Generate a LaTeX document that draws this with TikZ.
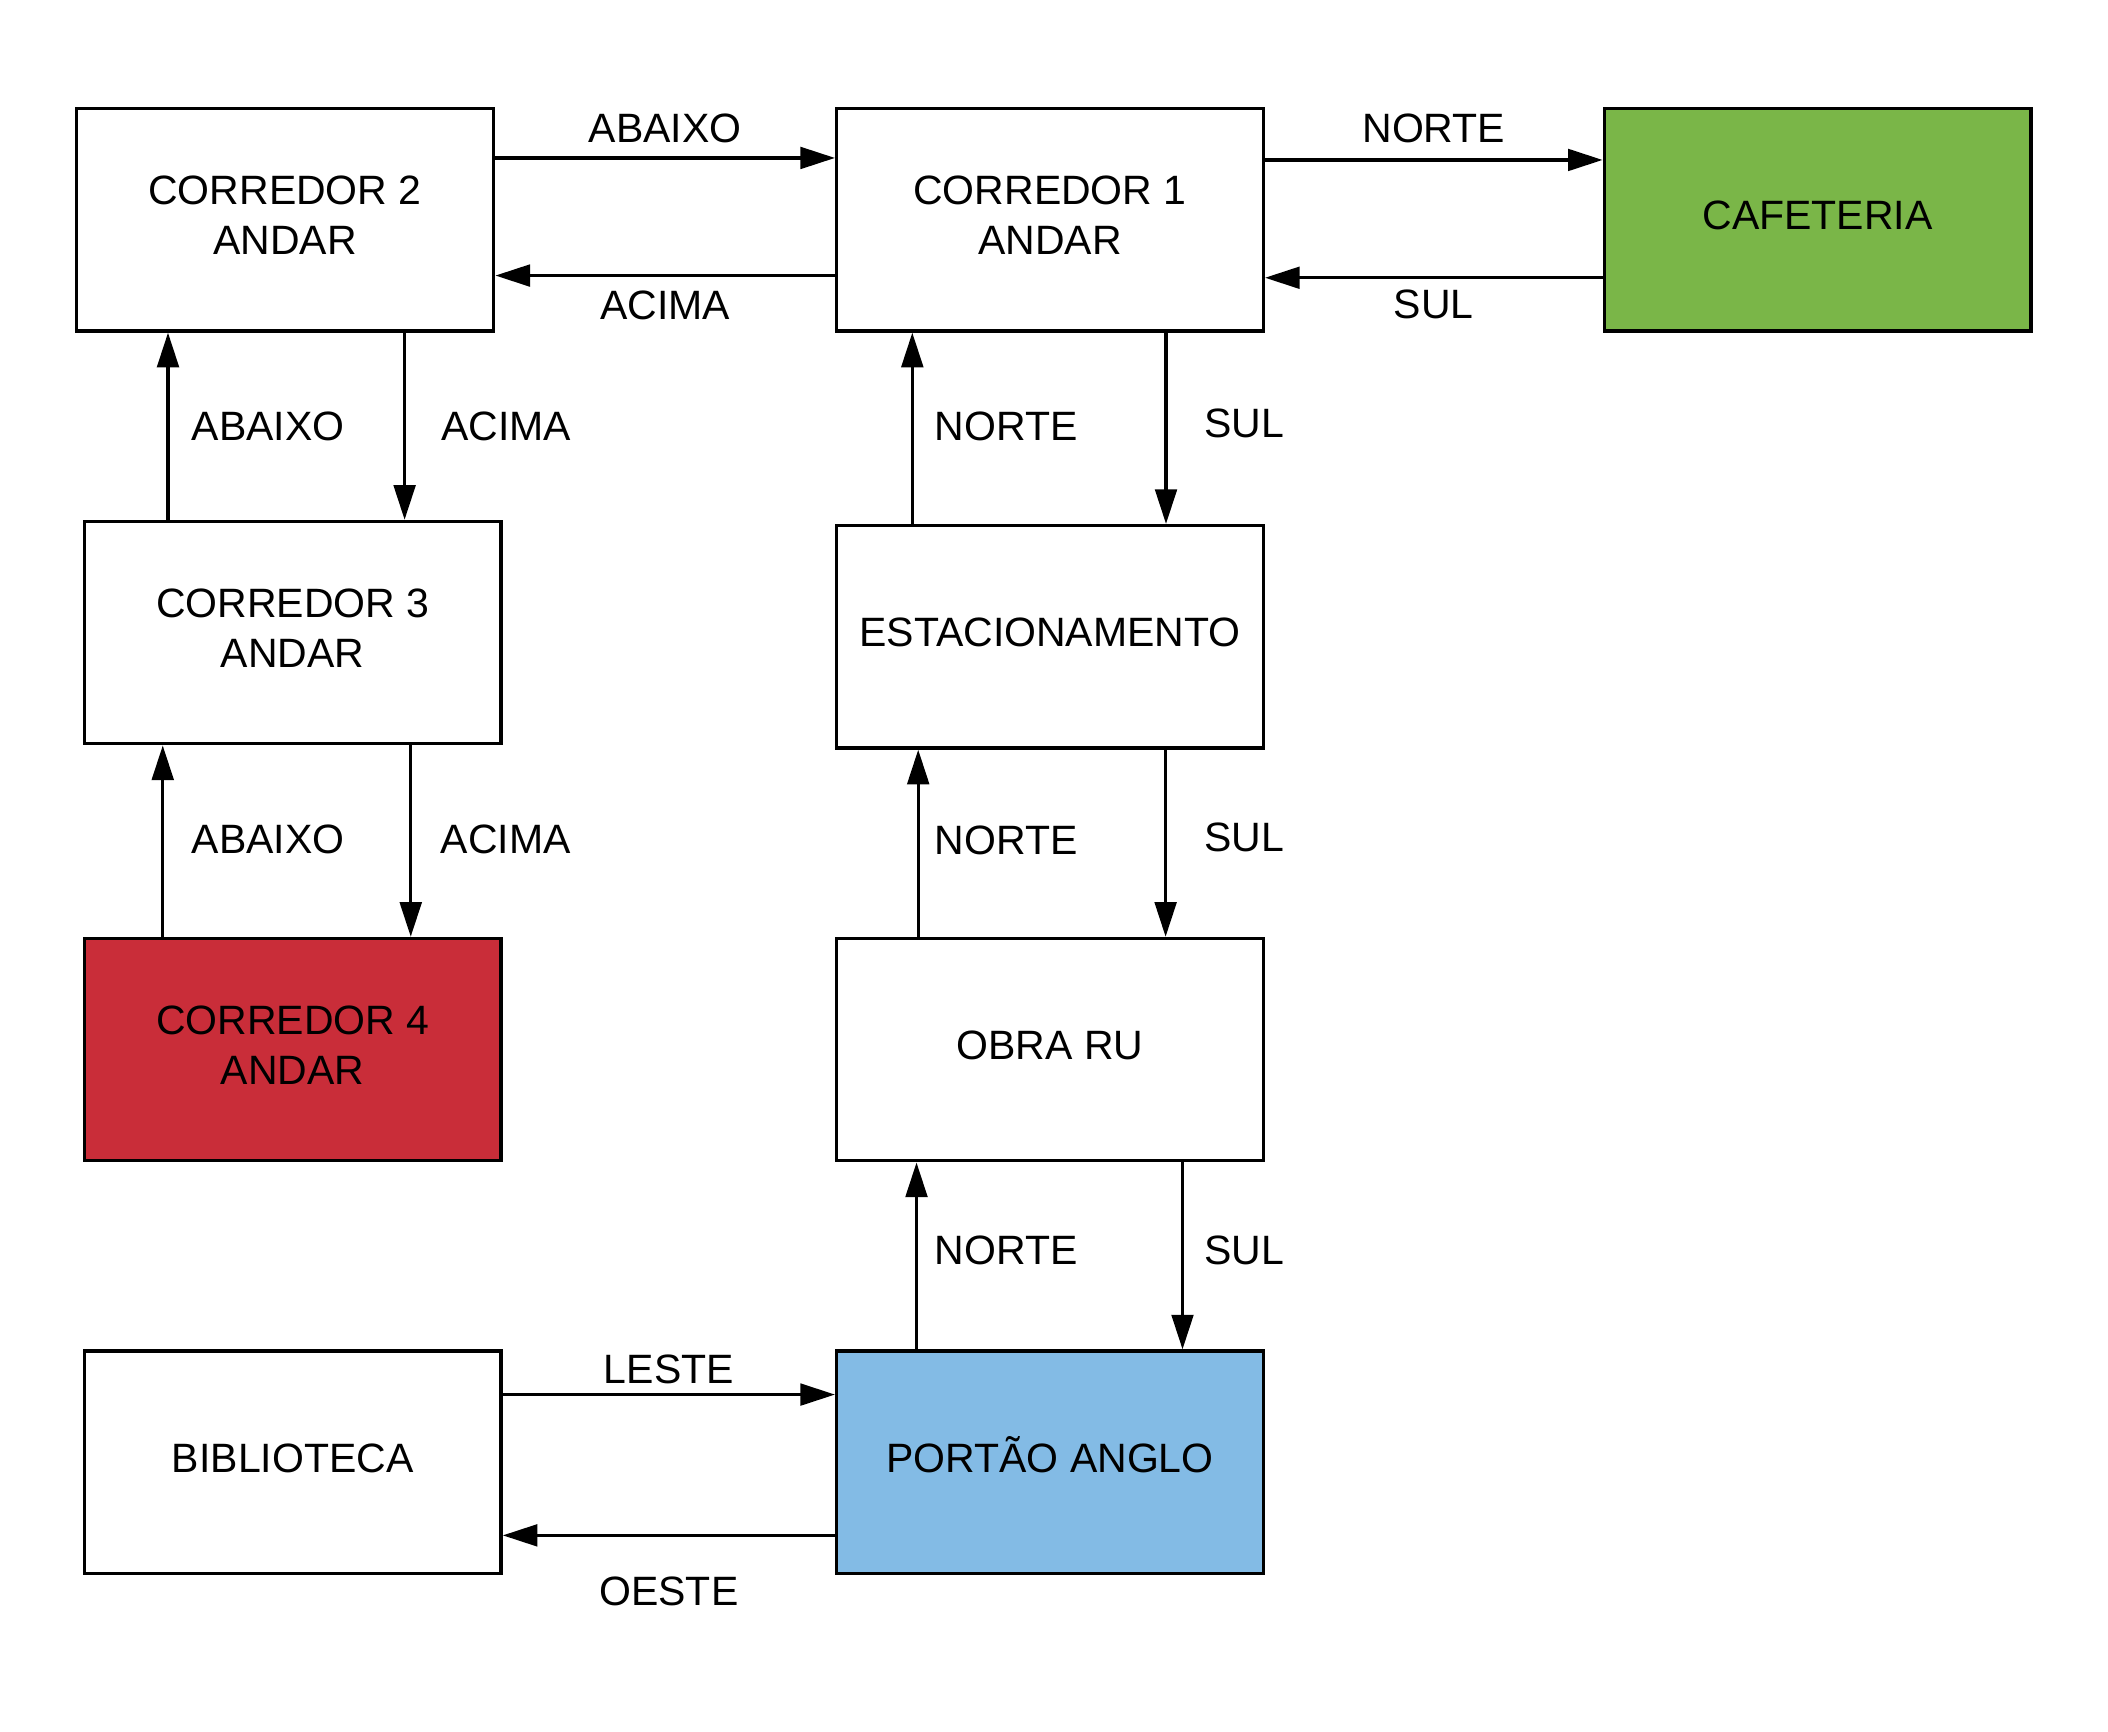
\documentclass[tikz,border=0pt]{standalone}
\usepackage{fontspec}
\setmainfont{Liberation Sans}
\usetikzlibrary{arrows.meta,calc}
\definecolor{cafegreen}{HTML}{7AB648}
\definecolor{corred}{HTML}{C92D39}
\definecolor{portblue}{HTML}{83BBE5}
\begin{document}
\begin{tikzpicture}[x=0.5pt,y=-0.5pt,
  txt/.style={font=\fontsize{20.5pt}{25pt}\selectfont},
  box/.style={txt, draw, line width=1.65pt, align=center, inner sep=0pt, minimum height=111.2pt},
  narrow/.style={box, minimum width=208.35pt},
  wide/.style={box, minimum width=213.35pt},
  arr/.style={line width=1.65pt, -{Triangle[length=17.3pt,width=10.8pt]}},
  lab/.style={txt, inner sep=0pt, anchor=center}]
\useasboundingbox (0,0) rectangle (2108,1731);

% boxes
\node[box, minimum width=208.75pt] (c2) at (285,219.8) {\strut CORREDOR 2\\ANDAR\strut};
\node[wide] (c1) at (1050,219.8) {\strut CORREDOR 1\\ANDAR\strut};
\node[wide, fill=cafegreen] (cafe) at (1817.6,219.8) {\strut CAFETERIA};
\node[narrow] (c3) at (292.75,632.6) {\strut CORREDOR 3\\ANDAR\strut};
\node[wide] (est) at (1050,636.8) {\strut ESTACIONAMENTO};
\node[narrow, fill=corred] (c4) at (292.75,1049.6) {\strut CORREDOR 4\\ANDAR\strut};
\node[wide] (obra) at (1050,1049.6) {\strut OBRA RU};
\node[narrow] (bib) at (292.75,1462.2) {\strut BIBLIOTECA};
\node[wide, fill=portblue] (port) at (1050,1462.2) {\strut PORTÃO ANGLO};

% horizontal connectors
\draw[arr] ($(c2.north east)+(0,51)$) -- node[lab, yshift=14.65pt] (l1) {ABAIXO} ($(c1.north west)+(0,51)$);
\draw[arr] ($(c1.north west)+(0,168.6)$) -- node[lab, yshift=-14.7pt] (l2) {ACIMA} ($(c2.north east)+(0,168.6)$);
\draw[arr] ($(c1.north east)+(0,53)$) -- node[lab, yshift=15.65pt] (l3) {NORTE} ($(cafe.north west)+(0,53)$);
\draw[arr] ($(cafe.north west)+(0,170.8)$) -- node[lab, yshift=-13.25pt] (l4) {SUL} ($(c1.north east)+(0,170.8)$);
\draw[arr] ($(bib.north east)+(0,45.2)$) -- node[lab, yshift=12.8pt] (l15) {LESTE} ($(port.north west)+(0,45.2)$);
\draw[arr] ($(port.north west)+(0,186)$) -- node[lab, yshift=-28.15pt] (l16) {OESTE} ($(bib.north east)+(0,186)$);

% vertical connectors
\coordinate (s5) at ($(c3.north west)+(85.25,0)$);
\coordinate (s6) at ($(c2.south west)+(330,0)$);
\coordinate (s7) at ($(c4.north west)+(80,0)$);
\coordinate (s8) at ($(c3.south west)+(328,0)$);
\coordinate (s9) at ($(est.north west)+(77.3,0)$);
\coordinate (s10) at ($(c1.south west)+(331,0)$);
\coordinate (s11) at ($(obra.north west)+(83.2,0)$);
\coordinate (s12) at ($(est.south west)+(330.6,0)$);
\coordinate (s13) at ($(port.north west)+(81.5,0)$);
\coordinate (s14) at ($(obra.south west)+(347.5,0)$);

\draw[arr] (s5) -- node[lab, xshift=50pt] (l5) {ABAIXO} (s5 |- c2.south);
\draw[arr] (s6) -- node[lab, xshift=50.85pt] (l6) {ACIMA} (s6 |- c3.north);
\draw[arr] (s7) -- node[lab, xshift=52.65pt, yshift=0.75pt] (l7) {ABAIXO} (s7 |- c3.south);
\draw[arr] (s8) -- node[lab, xshift=47.55pt, yshift=0.75pt] (l8) {ACIMA} (s8 |- c4.north);
\draw[arr] (s9) -- node[lab, xshift=47pt, yshift=1.15pt] (l9) {NORTE} (s9 |- c1.south);
\draw[arr] (s10) -- node[lab, xshift=39.1pt, yshift=2.5pt] (l10) {SUL} (s10 |- est.north);
\draw[arr] (s11) -- node[lab, xshift=44.05pt, yshift=1.35pt] (l11) {NORTE} (s11 |- est.south);
\draw[arr] (s12) -- node[lab, xshift=39.3pt, yshift=2.7pt] (l12) {SUL} (s12 |- obra.north);
\draw[arr] (s13) -- node[lab, xshift=44.9pt, yshift=2.9pt] (l13) {NORTE} (s13 |- obra.south);
\draw[arr] (s14) -- node[lab, xshift=30.85pt, yshift=2.9pt] (l14) {SUL} (s14 |- port.north);
\end{tikzpicture}
\end{document}
